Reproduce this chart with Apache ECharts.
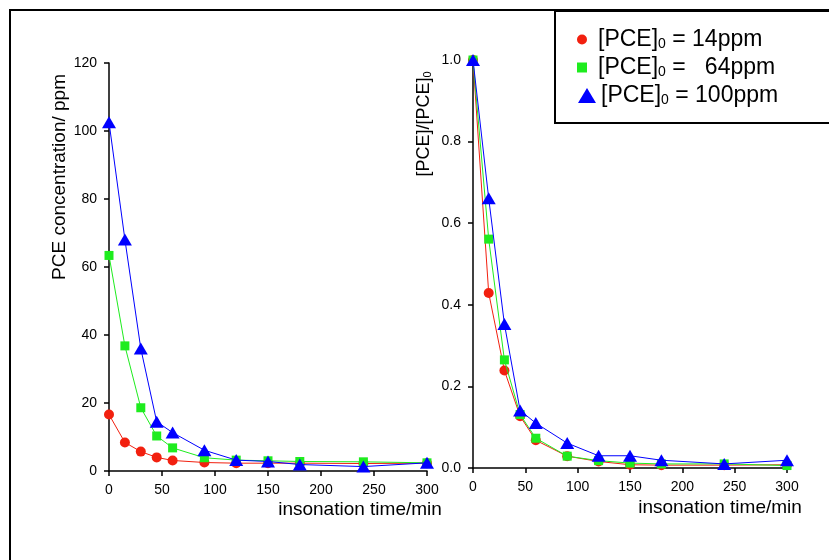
<!DOCTYPE html>
<html>
<head>
<meta charset="utf-8">
<script src="https://cdn.jsdelivr.net/npm/echarts@6/dist/echarts.min.js"></script>
<style>
html,body{margin:0;padding:0;background:#fff;}
#chart{width:829px;height:560px;}
</style>
</head>
<body>
<div id="chart"></div>
<script>
// ---- data ----
var times = [0, 15, 30, 45, 60, 90, 120, 150, 180, 240, 300];
var seriesNames = ['14ppm', '64ppm', '100ppm'];
var legendLabels = ['[PCE]{s|0} = 14ppm', '[PCE]{s|0} =   64ppm', '[PCE]{s|0} = 100ppm'];
var conc14  = [16.6, 8.4, 5.7, 4.0, 3.1, 2.5, 2.3, 2.3, 2.3, 2.2, 2.3];
var conc64  = [63.4, 36.8, 18.6, 10.3, 6.8, 3.9, 3.2, 3.0, 2.8, 2.7, 2.4];
var conc100 = [102.6, 68.1, 36.0, 14.5, 11.3, 6.1, 3.2, 2.8, 1.9, 1.3, 2.4];
var norm14  = [1.0, 0.429, 0.239, 0.127, 0.068, 0.029, 0.016, 0.008, 0.007, 0.007, 0.008];
var norm64  = [1.0, 0.561, 0.265, 0.131, 0.073, 0.029, 0.018, 0.012, 0.010, 0.010, 0.006];
var norm100 = [1.0, 0.661, 0.353, 0.141, 0.110, 0.061, 0.030, 0.030, 0.019, 0.010, 0.019];
var xAxisTitle = 'insonation time/min';
var yAxisTitleLeft = 'PCE concentration/ ppm';
var yAxisTitleRight = '[PCE]/[PCE]{s|0}';

// ---- styles ----
var FONT = '"Liberation Sans", Arial, Helvetica, sans-serif';
var colors = ['#f2200f', '#1eec1e', '#0000ff'];
var symbols = ['circle', 'rect', 'triangle'];
var symbolSizes = [10, 9, [14, 12]];

function pairs(xs, ys) { return xs.map(function (x, i) { return [x, ys[i]]; }); }

function axisCommon() {
  return {
    type: 'value',
    axisLine: { show: true, onZero: false, lineStyle: { color: '#000', width: 1.5 } },
    axisTick: { show: true, inside: false, length: 5, lineStyle: { color: '#000', width: 1.5 } },
    axisLabel: { color: '#000', fontSize: 14, fontFamily: FONT, margin: 12 },
    splitLine: { show: false }
  };
}

var xLeft = Object.assign(axisCommon(), { gridIndex: 0, min: 0, max: 300, interval: 50 });
var xRight = Object.assign(axisCommon(), { gridIndex: 1, min: 0, max: 300, interval: 50 });
var yLeft = Object.assign(axisCommon(), { gridIndex: 0, min: 0, max: 120, interval: 20 });
var yRight = Object.assign(axisCommon(), { gridIndex: 1, min: 0, max: 1, interval: 0.2 });
yRight.axisLabel = Object.assign({}, yRight.axisLabel, { formatter: function (v) { return v.toFixed(1); } });

var leftData = [conc14, conc64, conc100];
var rightData = [norm14, norm64, norm100];
var series = [];
[0, 1].forEach(function (g) {
  var dataSet = g === 0 ? leftData : rightData;
  dataSet.forEach(function (ys, i) {
    series.push({
      name: seriesNames[i],
      type: 'line',
      xAxisIndex: g, yAxisIndex: g,
      data: pairs(times, ys),
      symbol: symbols[i],
      symbolSize: symbolSizes[i],
      showAllSymbol: true,
      lineStyle: { color: colors[i], width: 1 },
      itemStyle: { color: colors[i] },
      emphasis: { disabled: true },
      z: 2 + i
    });
  });
});

var richLegend = {
  s: { fontSize: 14, fontFamily: FONT, color: '#000', padding: [10, 0, 0, 0] }
};
var legendIcons = [
  { icon: 'circle', w: 10, h: 10, left: 577, top: 28 },
  { icon: 'rect', w: 10, h: 10, left: 577, top: 56 },
  { icon: 'triangle', w: 18, h: 15, left: 578, top: 84 }
];
var legends = legendIcons.map(function (L, i) {
  return {
    data: [seriesNames[i]],
    icon: L.icon,
    itemWidth: L.w,
    itemHeight: L.h,
    left: L.left,
    top: L.top,
    padding: 0,
    selectedMode: true,
    formatter: function () { return (i < 2 ? '{g|}' : '') + legendLabels[i]; },
    textStyle: {
      fontSize: 23, fontFamily: FONT, color: '#000',
      rich: Object.assign({ g: { width: 6 } }, richLegend)
    }
  };
});

var richTitle = { s: { fontSize: 11, fontFamily: FONT, color: '#000', padding: [8, 0, 0, 0] } };

var option = {
  backgroundColor: '#fff',
  animation: false,
  grid: [
    { left: 109, right: 402, top: 63, bottom: 89, containLabel: false },
    { left: 473, right: 42, top: 60, bottom: 92, containLabel: false }
  ],
  xAxis: [xLeft, xRight],
  yAxis: [yLeft, yRight],
  legend: legends,
  series: series,
  graphic: [
    { type: 'rect', shape: { x: 10, y: 10, width: 900, height: 700 },
      style: { fill: 'none', stroke: '#000', lineWidth: 2 }, z: 0, silent: true },
    { type: 'rect', shape: { x: 555, y: 11, width: 400, height: 112 },
      style: { fill: '#fff', stroke: '#000', lineWidth: 2 }, z: 0, silent: true },
    { type: 'text', x: 60, y: 177, rotation: Math.PI / 2, silent: true,
      style: { text: yAxisTitleLeft, fill: '#000', font: '19px ' + FONT, align: 'center', verticalAlign: 'middle' } },
    { type: 'text', x: 424, y: 124, rotation: Math.PI / 2, silent: true,
      style: { text: yAxisTitleRight, fill: '#000', fontSize: 18, fontFamily: FONT, align: 'center', verticalAlign: 'middle', rich: richTitle } },
    { type: 'text', x: 360, y: 510, silent: true,
      style: { text: xAxisTitle, fill: '#000', font: '19px ' + FONT, align: 'center', verticalAlign: 'middle' } },
    { type: 'text', x: 720, y: 508, silent: true,
      style: { text: xAxisTitle, fill: '#000', font: '19px ' + FONT, align: 'center', verticalAlign: 'middle' } }
  ]
};

var chart = echarts.init(document.getElementById('chart'), null, { renderer: 'canvas' });
chart.setOption(option);
</script>
</body>
</html>
